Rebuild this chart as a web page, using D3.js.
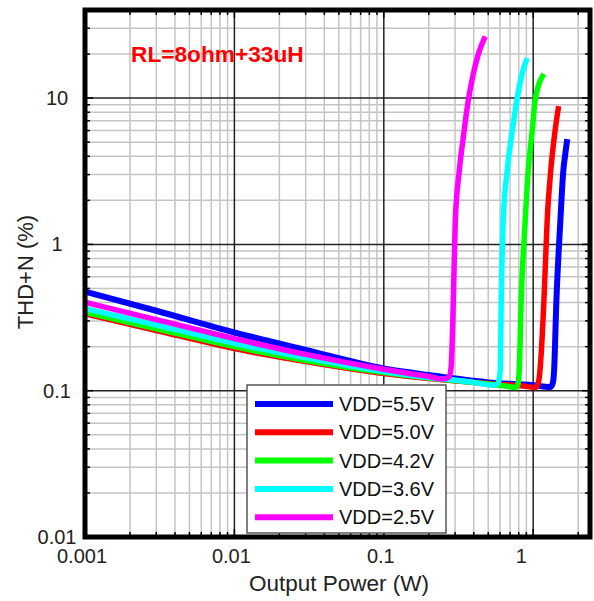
<!DOCTYPE html>
<html><head><meta charset="utf-8">
<script src="https://cdn.jsdelivr.net/npm/d3@7"></script>
<style>body{margin:0;background:#fff}svg{display:block}</style>
</head><body>
<svg id="c" width="594" height="601"></svg>
<script>
// ---- data ----
const xTickValues = [0.001, 0.01, 0.1, 1];
const xTickLabels = ["0.001", "0.01", "0.1", "1"];
const yTickValues = [0.01, 0.1, 1, 10];
const yTickLabels = ["0.01", "0.1", "1", "10"];
const seriesNames = ["VDD=5.5V", "VDD=5.0V", "VDD=4.2V", "VDD=3.6V", "VDD=2.5V"];
const seriesColors = ["#0000ff", "#ff0000", "#00ff00", "#00ffff", "#ff00ff"];

const p55 = [0.001,0.003,0.01,0.03,0.1,0.2,0.5,1.0,1.3,1.35,1.38,1.43,1.52,1.59,1.64,1.69];
const t55 = [0.475,0.352,0.250,0.190,0.142,0.128,0.114,0.109,0.106,0.112,0.137,0.413,1.45,3.18,4.15,5.25];
const p50 = [0.001,0.003,0.01,0.03,0.1,0.2,0.5,0.9,1.03,1.08,1.11,1.18,1.24,1.31,1.40,1.48];
const t50 = [0.336,0.258,0.194,0.158,0.131,0.121,0.112,0.107,0.105,0.112,0.137,0.413,1.45,3.18,5.95,8.81];
const p42 = [0.001,0.003,0.01,0.03,0.1,0.2,0.5,0.72,0.76,0.79,0.806,0.831,0.884,0.926,0.985,1.03,1.18];
const t42 = [0.343,0.265,0.200,0.161,0.133,0.122,0.111,0.106,0.105,0.111,0.137,0.413,1.45,3.18,5.95,9.68,14.6];
const p36 = [0.001,0.003,0.01,0.03,0.1,0.2,0.4,0.54,0.58,0.602,0.611,0.630,0.670,0.724,0.782,0.851,0.912];
const t36 = [0.364,0.281,0.211,0.168,0.135,0.123,0.114,0.109,0.112,0.137,0.413,1.45,3.18,5.95,9.98,15.2,18.7];
const p25 = [0.001,0.003,0.01,0.03,0.1,0.2,0.25,0.275,0.283,0.292,0.301,0.320,0.340,0.368,0.397,0.429,0.477];
const t25 = [0.402,0.306,0.227,0.177,0.140,0.125,0.120,0.125,0.149,0.413,1.45,3.18,5.33,9.68,14.6,19.9,26.4];

const annotation = "RL=8ohm+33uH";
const xTitle = "Output Power (W)";
const yTitle = "THD+N (%)";

// ---- chart ----
const FONT = "'Liberation Sans', Arial, sans-serif";
const svg = d3.select("#c");
const L = 85, R = 590, T = 10, B = 537;
const x = d3.scaleLog().domain([0.001, 2.4]).range([L, R]);
const y = d3.scaleLog().domain([0.01, 40]).range([B, T]);

// grid
const xMinor = [], yMinor = [];
[0.001, 0.01, 0.1, 1].forEach(d => { for (let k = 1; k <= 9; k++) { const v = d * k; if (v <= 2.4) xMinor.push({v, major: k === 1}); } });
[0.01, 0.1, 1, 10].forEach(d => { for (let k = 1; k <= 9; k++) { const v = d * k; if (v <= 40) yMinor.push({v, major: k === 1}); } });

const g = svg.append("g");
g.selectAll("line.gx").data(xMinor.filter(d => !d.major)).join("line")
  .attr("x1", d => x(d.v)).attr("x2", d => x(d.v)).attr("y1", T).attr("y2", B)
  .attr("stroke", "#c4c4c4").attr("stroke-width", 1.5);
g.selectAll("line.gy").data(yMinor.filter(d => !d.major)).join("line")
  .attr("y1", d => y(d.v)).attr("y2", d => y(d.v)).attr("x1", L).attr("x2", R)
  .attr("stroke", "#c4c4c4").attr("stroke-width", 1.5);
g.selectAll("line.mx").data(xMinor.filter(d => d.major)).join("line")
  .attr("x1", d => x(d.v)).attr("x2", d => x(d.v)).attr("y1", T).attr("y2", B)
  .attr("stroke", "#222").attr("stroke-width", 1.5);
g.selectAll("line.my").data(yMinor.filter(d => d.major)).join("line")
  .attr("y1", d => y(d.v)).attr("y2", d => y(d.v)).attr("x1", L).attr("x2", R)
  .attr("stroke", "#222").attr("stroke-width", 1.5);

// inward ticks on all sides
const tk = svg.append("g").attr("stroke", "#000").attr("stroke-width", 1.5);
xMinor.forEach(d => {
  const len = d.major ? 8 : 5;
  tk.append("line").attr("x1", x(d.v)).attr("x2", x(d.v)).attr("y1", B).attr("y2", B - len);
  tk.append("line").attr("x1", x(d.v)).attr("x2", x(d.v)).attr("y1", T).attr("y2", T + len);
});
yMinor.forEach(d => {
  const len = d.major ? 8 : 5;
  tk.append("line").attr("y1", y(d.v)).attr("y2", y(d.v)).attr("x1", L).attr("x2", L + len);
  tk.append("line").attr("y1", y(d.v)).attr("y2", y(d.v)).attr("x1", R).attr("x2", R - len);
});

// curves
const series = [
  {p: p55, t: t55}, {p: p50, t: t50}, {p: p42, t: t42}, {p: p36, t: t36}, {p: p25, t: t25}
].map((s, i) => ({name: seriesNames[i], color: seriesColors[i], pts: s.p.map((v, j) => [v, s.t[j]])}));

const line = d3.line().x(d => x(d[0])).y(d => y(d[1])).curve(d3.curveMonotoneX);
svg.append("g").selectAll("path").data(series).join("path")
  .attr("d", d => line(d.pts)).attr("fill", "none")
  .attr("stroke", d => d.color).attr("stroke-width", (d, i) => i === 0 ? 6 : 5.5)
  .attr("stroke-linejoin", "round");

// legend
const lg = svg.append("g");
lg.append("rect").attr("x", 247).attr("y", 385).attr("width", 199).attr("height", 148)
  .attr("fill", "#fff").attr("stroke", "#555").attr("stroke-width", 1.5);
series.forEach((s, i) => {
  const cy = 404 + i * 28.3;
  lg.append("line").attr("x1", 255).attr("x2", 333).attr("y1", cy).attr("y2", cy)
    .attr("stroke", s.color).attr("stroke-width", 6);
  lg.append("text").attr("x", 339).attr("y", cy + 7).text(s.name)
    .attr("font-family", FONT).attr("font-size", 20).attr("fill", "#111");
});

// border
svg.append("rect").attr("x", L).attr("y", T).attr("width", R - L).attr("height", B - T)
  .attr("fill", "none").attr("stroke", "#000").attr("stroke-width", 5);

// tick labels
svg.append("g").selectAll("text").data(xTickValues).join("text")
  .attr("x", (d, i) => x(d) - (d === 1 ? 12 : 3)).attr("y", 563)
  .attr("text-anchor", "middle").attr("font-family", FONT).attr("font-size", 20).attr("fill", "#222")
  .text((d, i) => xTickLabels[i]);
svg.append("g").selectAll("text").data(yTickValues).join("text")
  .attr("x", 57).attr("y", d => y(d) + 7)
  .attr("text-anchor", "middle").attr("font-family", FONT).attr("font-size", 20).attr("fill", "#222")
  .text((d, i) => yTickLabels[i]);

// titles
svg.append("text").attr("x", 339).attr("y", 591).attr("text-anchor", "middle")
  .attr("font-family", FONT).attr("font-size", 22.5).attr("fill", "#222").text(xTitle);
svg.append("text").attr("transform", "translate(33,272) rotate(-90)").attr("text-anchor", "middle")
  .attr("font-family", FONT).attr("font-size", 22).attr("fill", "#222").text(yTitle);

// annotation
svg.append("text").attr("x", 131).attr("y", 62).attr("font-family", FONT).attr("font-weight", "bold")
  .attr("font-size", 22.7).attr("fill", "#ff0000").text(annotation);
</script>
</body></html>
